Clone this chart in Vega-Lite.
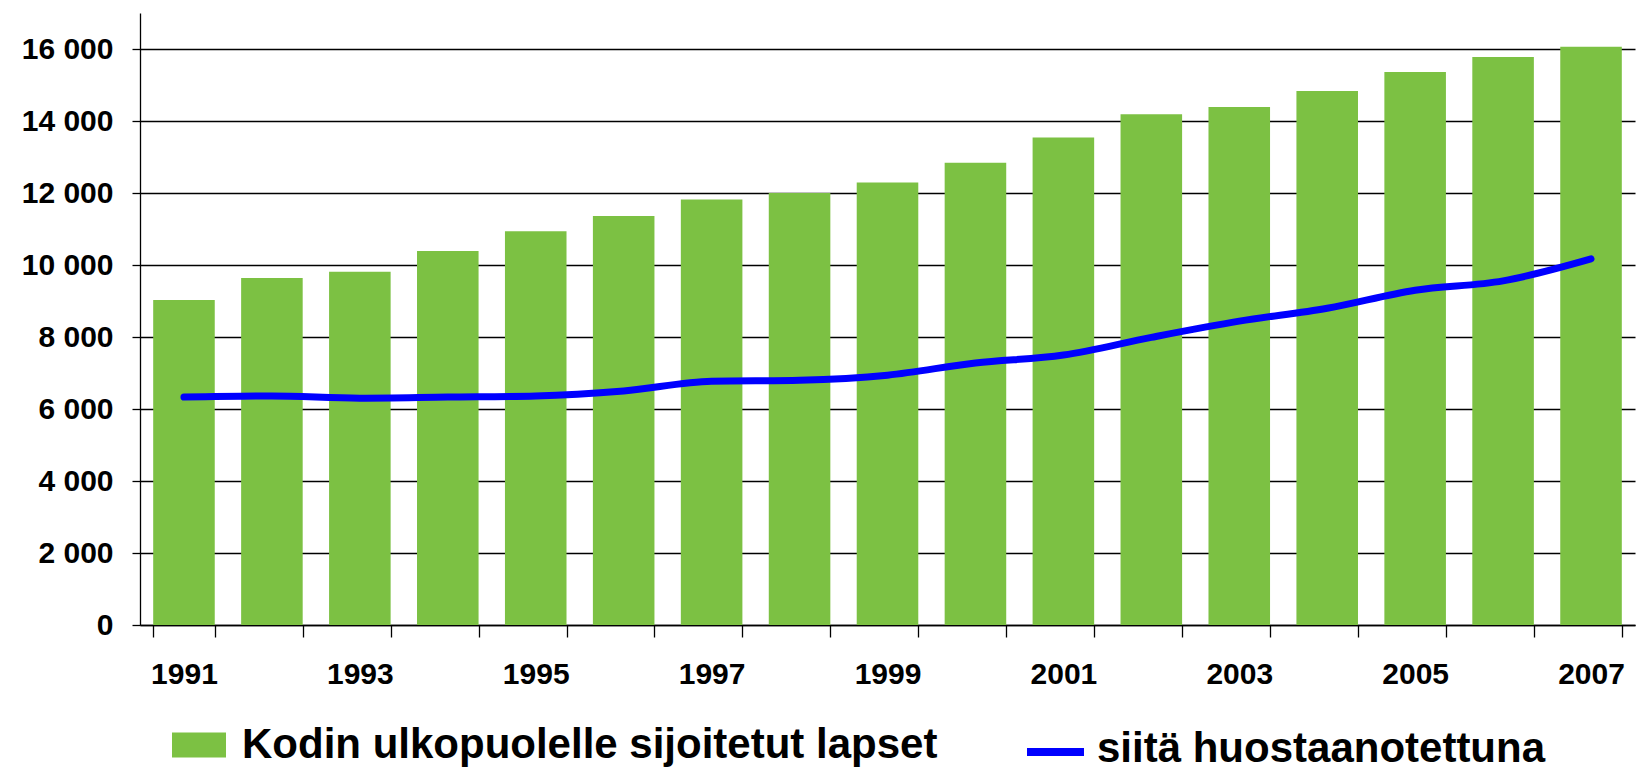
{
  "$schema": "https://vega.github.io/schema/vega-lite/v6.json",
  "autosize": "none",
  "width": 1495,
  "height": 612,
  "padding": {"left": 140, "top": 13, "right": 11, "bottom": 145},
  "background": "white",
  "config": {
    "view": {"stroke": null},
    "font": "Liberation Sans",
    "axis": {"labelFont": "Liberation Sans", "labelFontWeight": "bold", "labelColor": "black", "labelFontSize": 30}
  },
  "data": {
    "values": [
      {"vuosi": 1991, "lapset": 9030, "huostaan": 6330},
      {"vuosi": 1992, "lapset": 9640, "huostaan": 6360},
      {"vuosi": 1993, "lapset": 9810, "huostaan": 6300},
      {"vuosi": 1994, "lapset": 10390, "huostaan": 6330},
      {"vuosi": 1995, "lapset": 10940, "huostaan": 6360},
      {"vuosi": 1996, "lapset": 11360, "huostaan": 6500},
      {"vuosi": 1997, "lapset": 11820, "huostaan": 6770},
      {"vuosi": 1998, "lapset": 12000, "huostaan": 6800},
      {"vuosi": 1999, "lapset": 12290, "huostaan": 6940},
      {"vuosi": 2000, "lapset": 12840, "huostaan": 7280},
      {"vuosi": 2001, "lapset": 13540, "huostaan": 7500},
      {"vuosi": 2002, "lapset": 14190, "huostaan": 7990},
      {"vuosi": 2003, "lapset": 14390, "huostaan": 8440},
      {"vuosi": 2004, "lapset": 14830, "huostaan": 8800},
      {"vuosi": 2005, "lapset": 15360, "huostaan": 9300},
      {"vuosi": 2006, "lapset": 15780, "huostaan": 9560},
      {"vuosi": 2007, "lapset": 16060, "huostaan": 10170}
    ]
  },
  "encoding": {
    "x": {
      "field": "vuosi",
      "type": "ordinal",
      "scale": {"paddingInner": 0.3, "paddingOuter": 0.15},
      "axis": {
        "title": null,
        "labelAngle": 0,
        "labelExpr": "datum.value % 2 == 1 ? datum.label : ''",
        "tickBand": "extent",
        "tickSize": 12,
        "tickColor": "black",
        "tickWidth": 1.3,
        "domainColor": "black",
        "domainWidth": 1.3,
        "labelPadding": 22,
        "grid": false
      }
    }
  },
  "layer": [
    {
      "mark": {"type": "bar", "cornerRadius": 0},
      "encoding": {
        "y": {
          "field": "lapset",
          "type": "quantitative",
          "scale": {"domain": [0, 17000], "nice": false},
          "axis": {
            "title": null,
            "values": [0, 2000, 4000, 6000, 8000, 10000, 12000, 14000, 16000],
            "labelExpr": "replace(format(datum.value, ','), ',', ' ')",
            "grid": true,
            "gridColor": "black",
            "gridWidth": 1.5,
            "gridOpacity": 1,
            "tickSize": 8,
            "tickColor": "black",
            "tickWidth": 1.3,
            "domainColor": "black",
            "domainWidth": 1.3,
            "labelPadding": 19
          }
        },
        "fill": {
          "datum": "Kodin ulkopuolelle sijoitetut lapset",
          "type": "nominal",
          "scale": {"range": ["#7cc143"]},
          "legend": {
            "title": null,
            "orient": "none",
            "legendX": 32,
            "legendY": 705,
            "padding": 0,
            "symbolType": "M-1,-0.463H1V0.463H-1Z",
            "symbolSize": 2916,
            "symbolStrokeWidth": 0,
            "symbolOpacity": 1,
            "labelFont": "Liberation Sans",
            "labelFontWeight": "bold",
            "labelFontSize": 42,
            "labelColor": "black",
            "labelOffset": 16,
            "labelLimit": 1000
          }
        }
      }
    },
    {
      "mark": {"type": "line", "strokeWidth": 7, "interpolate": "monotone", "strokeCap": "round", "strokeJoin": "round"},
      "encoding": {
        "y": {"field": "huostaan", "type": "quantitative"},
        "stroke": {
          "datum": "siitä huostaanotettuna",
          "type": "nominal",
          "scale": {"range": ["#0000ff"]},
          "legend": {
            "title": null,
            "orient": "none",
            "legendX": 883,
            "legendY": 703,
            "padding": 0,
            "symbolType": "M-1,0.12L1,0.12",
            "symbolSize": 3249,
            "symbolStrokeWidth": 8,
            "labelFont": "Liberation Sans",
            "labelFontWeight": "bold",
            "labelFontSize": 42,
            "labelColor": "black",
            "labelOffset": 9,
            "labelLimit": 1000
          }
        }
      }
    }
  ]
}
